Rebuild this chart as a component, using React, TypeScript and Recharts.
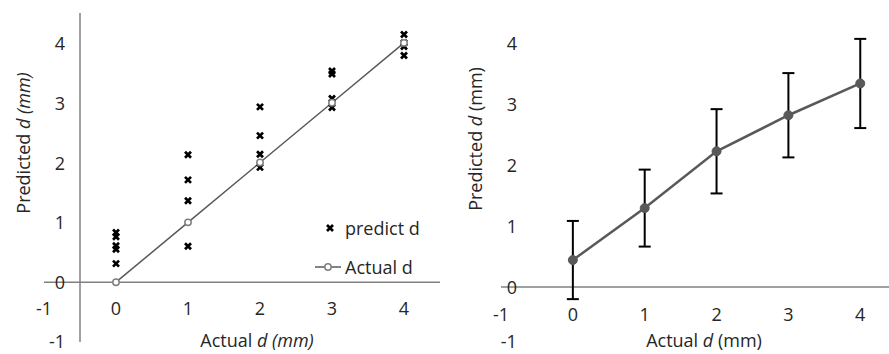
import { ComposedChart, Scatter, Line, XAxis, YAxis, ReferenceLine, ErrorBar, Legend } from "recharts"

const tickValues = [-1, 0, 1, 2, 3, 4]

// left panel: every single prediction plus the ideal line
const predX = [0, 0, 0, 0, 0, 1, 1, 1, 1, 2, 2, 2, 2, 3, 3, 3, 3, 4, 4, 4, 4]
const predY = [0.83, 0.76, 0.61, 0.55, 0.31, 2.13, 1.71, 1.36, 0.6, 2.93, 2.45, 2.14, 1.92, 3.53, 3.48, 3.07, 2.92, 4.14, 4.0, 3.94, 3.79]
const actualX = [0, 1, 2, 3, 4]
const actualY = [0, 1, 2, 3, 4]

// right panel: mean prediction with spread
const meanX = [0, 1, 2, 3, 4]
const meanY = [0.44, 1.29, 2.22, 2.81, 3.33]
const meanErr = [0.64, 0.63, 0.69, 0.69, 0.73]

const FONT = "'Open Sans', sans-serif"
const FS = 18
const TEXT = "#262626"
const AXIS = "#808080"

type Panel = {
  w: number
  h: number
  m: { top: number; right: number; bottom: number; left: number }
  xd: [number, number]
  yd: [number, number]
}

// margins already leave 1px for each axis (axes of size 0 draw no ticks)
const leftPanel: Panel = { w: 445, h: 354, m: { top: 13, right: 5, bottom: 11, left: 43 }, xd: [-1, 4.5], yd: [-1, 4.5] }
const rightPanel: Panel = { w: 439, h: 354, m: { top: 12, right: 0, bottom: 5, left: 50 }, xd: [-1, 4.4], yd: [-1, 4.5] }

const plotLeft = (p: Panel) => p.m.left + 1
const plotW = (p: Panel) => p.w - p.m.left - 1 - p.m.right
const plotH = (p: Panel) => p.h - p.m.top - p.m.bottom - 1

const xPix = (p: Panel, v: number) => plotLeft(p) + ((v - p.xd[0]) / (p.xd[1] - p.xd[0])) * plotW(p)
const yPix = (p: Panel, v: number) => p.m.top + ((p.yd[1] - v) / (p.yd[1] - p.yd[0])) * plotH(p)

// ticks sit next to the crossing axes, not at the plot edges
const xTick = (p: Panel, gap: number) => (props: any) => (
  <text x={props.x} y={yPix(p, 0) + gap} textAnchor="middle" dominantBaseline="central"
    fontFamily={FONT} fontSize={FS} fill={TEXT}>
    {props.payload.value}
  </text>
)
const yTick = (p: Panel, gap: number) => (props: any) => (
  <text x={xPix(p, -0.5) - gap} y={Math.min(props.y, p.h - 13)} textAnchor="end" dominantBaseline="central"
    fontFamily={FONT} fontSize={FS} fill={TEXT}>
    {props.payload.value}
  </text>
)

const Cross = (props: any) => {
  const { cx, cy } = props
  const s = 3
  return (
    <path d={`M${cx - s},${cy - s}L${cx + s},${cy + s}M${cx + s},${cy - s}L${cx - s},${cy + s}`}
      stroke="#000" strokeWidth={2.7} fill="none" />
  )
}

const LeftLegend = () => (
  <div style={{ fontFamily: FONT, fontSize: FS, color: TEXT, lineHeight: "24px" }}>
    <div style={{ display: "flex", alignItems: "center", height: 24 }}>
      <svg width={31} height={24}>
        <Cross cx={16} cy={12} />
      </svg>
      <span>predict d</span>
    </div>
    <div style={{ display: "flex", alignItems: "center", height: 24, marginTop: 15 }}>
      <svg width={31} height={24}>
        <line x1={1} y1={12} x2={27} y2={12} stroke="#595959" strokeWidth={1.5} />
        <circle cx={14} cy={12} r={3.2} fill="#fff" stroke="#7f7f7f" strokeWidth={1.5} />
      </svg>
      <span>Actual d</span>
    </div>
  </div>
)

const label = { position: "absolute" as const, fontFamily: FONT, fontSize: FS, color: TEXT, whiteSpace: "nowrap" as const }

export default function App() {
  const predData = predX.map((x, i) => ({ x, y: predY[i] }))
  const actualData = actualX.map((x, i) => ({ x, y: actualY[i] }))
  const meanData = meanX.map((x, i) => ({ x, y: meanY[i], err: meanErr[i] }))

  return (
    <div style={{ position: "relative", width: 889, height: 354, background: "#fff" }}>
      <style>{`body{margin:0}`}</style>

      <div style={{ position: "absolute", left: 0, top: 0 }}>
        <ComposedChart width={leftPanel.w} height={leftPanel.h} margin={leftPanel.m}>
          <XAxis type="number" dataKey="x" domain={leftPanel.xd} ticks={tickValues} interval={0}
            axisLine={false} tickLine={false} height={1} tick={xTick(leftPanel, 26)} />
          <YAxis type="number" dataKey="y" domain={leftPanel.yd} ticks={tickValues} interval={0}
            axisLine={false} tickLine={false} width={1} tick={yTick(leftPanel, 15)} />
          <ReferenceLine y={0} stroke={AXIS} strokeWidth={1.5} />
          <ReferenceLine x={-0.5} stroke={AXIS} strokeWidth={1.5} />
          <Scatter name="predict d" data={predData} dataKey="y" shape={<Cross />} isAnimationActive={false} />
          <Line name="Actual d" data={actualData} dataKey="y" stroke="#595959" strokeWidth={1.5}
            dot={{ r: 3.2, fill: "#fff", stroke: "#7f7f7f", strokeWidth: 1.5 }} isAnimationActive={false} />
          <Legend layout="vertical" align="center" verticalAlign="middle" content={<LeftLegend />}
            wrapperStyle={{ left: 314, top: 216, width: "auto" }} />
        </ComposedChart>
        <div style={{ ...label, left: 257, top: 340, transform: "translate(-50%,-50%)" }}>
          Actual <i>d (mm)</i>
        </div>
        <div style={{ ...label, left: 23, top: 143, transform: "translate(-50%,-50%) rotate(-90deg)" }}>
          Predicted <i>d (mm)</i>
        </div>
      </div>

      <div style={{ position: "absolute", left: 450, top: 0 }}>
        <ComposedChart width={rightPanel.w} height={rightPanel.h} margin={rightPanel.m} data={meanData}>
          <XAxis type="number" dataKey="x" domain={rightPanel.xd} ticks={tickValues} interval={0}
            axisLine={false} tickLine={false} height={1} tick={xTick(rightPanel, 27)} />
          <YAxis type="number" domain={rightPanel.yd} ticks={tickValues} interval={0}
            axisLine={false} tickLine={false} width={1} tick={yTick(rightPanel, 20)} />
          <ReferenceLine y={0} stroke={AXIS} strokeWidth={1.5} />
          <ReferenceLine segment={[{ x: -0.5, y: -0.84 }, { x: -0.5, y: 4.53 }]} stroke={AXIS} strokeWidth={1.5} />
          <Line dataKey="y" stroke="#595959" strokeWidth={2.5}
            dot={{ r: 4.5, fill: "#595959", stroke: "#595959", strokeWidth: 1 }} isAnimationActive={false}>
            <ErrorBar dataKey="err" direction="y" width={6} stroke="#000" strokeWidth={2} />
          </Line>
        </ComposedChart>
        <div style={{ ...label, left: 254, top: 340, transform: "translate(-50%,-50%)" }}>
          Actual <i>d</i> (mm)
        </div>
        <div style={{ ...label, left: 25, top: 139, transform: "translate(-50%,-50%) rotate(-90deg)" }}>
          Predicted <i>d</i> (mm)
        </div>
      </div>
    </div>
  )
}
